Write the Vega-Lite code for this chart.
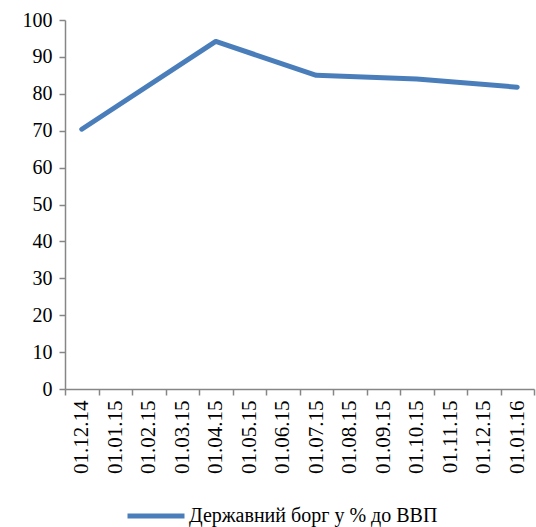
{
  "$schema": "https://vega.github.io/schema/vega-lite/v6.json",
  "width": 469,
  "height": 369,
  "autosize": {"type": "none"},
  "padding": {"left": 65, "top": 20, "right": 2, "bottom": 138},
  "background": "white",
  "config": {
    "view": {"stroke": null},
    "font": "'Liberation Serif', 'Times New Roman', serif",
    "axis": {"labelFont": "'Liberation Serif', 'Times New Roman', serif"},
    "legend": {"labelFont": "'Liberation Serif', 'Times New Roman', serif"}
  },
  "data": {
    "values": [
      {"date": "01.12.14", "value": 70.4, "series": "Державний борг у % до ВВП"},
      {"date": "01.04.15", "value": 94.2, "series": "Державний борг у % до ВВП"},
      {"date": "01.07.15", "value": 85.0, "series": "Державний борг у % до ВВП"},
      {"date": "01.10.15", "value": 84.0, "series": "Державний борг у % до ВВП"},
      {"date": "01.01.16", "value": 81.8, "series": "Державний борг у % до ВВП"}
    ]
  },
  "mark": {"type": "line", "strokeWidth": 5, "strokeCap": "round", "strokeJoin": "round"},
  "encoding": {
    "x": {
      "field": "date",
      "type": "ordinal",
      "sort": null,
      "scale": {
        "domain": ["01.12.14", "01.01.15", "01.02.15", "01.03.15", "01.04.15", "01.05.15", "01.06.15", "01.07.15", "01.08.15", "01.09.15", "01.10.15", "01.11.15", "01.12.15", "01.01.16"],
        "paddingInner": 0,
        "paddingOuter": 0
      },
      "axis": {
        "title": null,
        "labelAngle": -90,
        "labelAlign": "right",
        "labelBaseline": "middle",
        "labelFontSize": 21,
        "labelColor": "#000000",
        "labelPadding": 5,
        "tickBand": "extent",
        "tickSize": 6,
        "tickColor": "#868686",
        "domainColor": "#868686",
        "domainWidth": 1.5,
        "tickWidth": 1.5,
        "grid": false
      }
    },
    "y": {
      "field": "value",
      "type": "quantitative",
      "scale": {"domain": [0, 100], "nice": false},
      "axis": {
        "title": null,
        "values": [0, 10, 20, 30, 40, 50, 60, 70, 80, 90, 100],
        "labelFontSize": 20,
        "labelColor": "#000000",
        "labelPadding": 7,
        "tickSize": 6,
        "tickColor": "#868686",
        "domainColor": "#868686",
        "domainWidth": 1.5,
        "tickWidth": 1.5,
        "grid": false
      }
    },
    "color": {
      "field": "series",
      "type": "nominal",
      "scale": {"range": ["#4A7EBB"]},
      "legend": {
        "title": null,
        "orient": "none",
        "legendX": 60,
        "legendY": 465,
        "padding": 0,
        "symbolType": "stroke",
        "symbolSize": 3249,
        "symbolStrokeWidth": 5,
        "labelFontSize": 20,
        "labelColor": "#000000",
        "labelLimit": 400,
        "labelOffset": 2
      }
    }
  }
}
